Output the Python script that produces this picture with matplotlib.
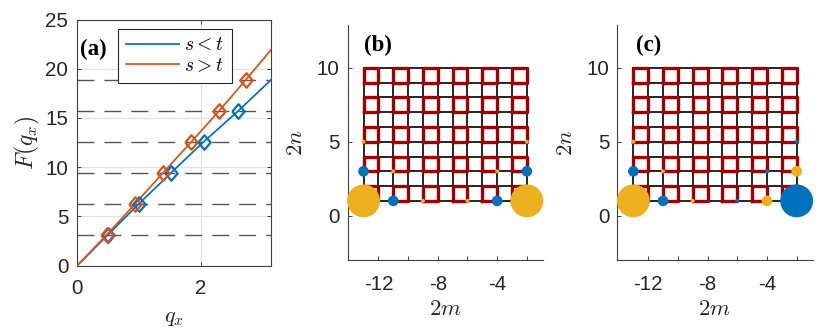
import numpy as np
from matplotlib import pyplot as plt

plt.rcParams['font.family'] = ['Liberation Sans', 'DejaVu Sans']
plt.rcParams['mathtext.fontset'] = 'cm'
plt.rcParams['axes.unicode_minus'] = False

# panel (a) data
levels = [3.14, 6.28, 9.42, 12.57, 15.71, 18.85]
q_less = [0, 0.50, 1.00, 1.52, 2.05, 2.61, 3.14]
F_less = [0, 3.14, 6.28, 9.42, 12.57, 15.71, 18.85]
q_more = [0, 0.48, 0.94, 1.39, 1.85, 2.30, 2.73, 3.14]
F_more = [0, 3.14, 6.28, 9.42, 12.57, 15.71, 18.85, 21.9]
marker_q_less = [0.50, 1.00, 1.52, 2.05, 2.61]
marker_F_less = [3.14, 6.28, 9.42, 12.57, 15.71]
marker_q_more = [0.48, 0.94, 1.39, 1.85, 2.30, 2.73]
marker_F_more = [3.14, 6.28, 9.42, 12.57, 15.71, 18.85]

# lattice for (b) and (c)
site_x = [-13, -12, -11, -10, -9, -8, -7, -6, -5, -4, -3, -2]
site_y = [1, 2, 3, 4, 5, 6, 7, 8, 9, 10]
plaq_left = [-13, -11, -9, -7, -5, -3]
plaq_bottom = [1, 3, 5, 7, 9]

# edge mode weights, positive = yellow, negative = blue
mode_x = [-13, -2, -13, -11, -4, -2, -13, -2, -11, -4, -9, -6]
mode_y = [1, 1, 3, 1, 1, 3, 5, 5, 3, 3, 1, 1]
weight_b = [1, 1, -0.105, -0.105, -0.105, -0.105, 0.015, 0.015, 0.015, 0.015, 0.015, 0.015]
weight_c = [1, -1, -0.105, -0.105, 0.105, 0.105, 0.015, -0.015, 0.015, -0.015, 0.015, -0.015]

BLUE = '#0072BD'
ORANGE = '#D95319'
YELLOW = '#EDB120'
RED = '#A00000'
AXC = '#404040'
TXT = '#262626'
W, H = 830.0, 330.0


def px_axes(fig, left, top, right, bottom):
    return fig.add_axes([left / W, 1 - bottom / H, (right - left) / W, (bottom - top) / H])


fig = plt.figure(figsize=(8.3, 3.3), dpi=100)

# ********** panel (a)
ax = px_axes(fig, 77.3, 19.5, 271, 265.5)
ax.grid(True, color='#e2e2e2', lw=0.9)
ax.set_axisbelow(True)
for lev in levels:
    ax.plot([0, np.pi], [lev, lev], color='#555555', lw=1.0, dashes=(12.2, 7.2), zorder=2)
diamond = [(-0.85, 0), (0, 1), (0.85, 0), (0, -1), (-0.85, 0)]
ax.plot(q_less, F_less, color=BLUE, lw=1.25, label='$s<t$', zorder=3)
ax.plot(q_more, F_more, color=ORANGE, lw=1.25, label='$s>t$', zorder=3)
ax.plot(marker_q_less, marker_F_less, ls='none', marker=diamond, ms=10.5, mfc='none', mec=BLUE, mew=1.6, zorder=4)
ax.plot(marker_q_more, marker_F_more, ls='none', marker=diamond, ms=10.5, mfc='none', mec=ORANGE, mew=1.6, zorder=4)
ax.set_xlim(0, np.pi)
ax.set_ylim(0, 25)
ax.set_xticks([0, 2])
ax.set_yticks([0, 5, 10, 15, 20, 25])
ax.tick_params(direction='in', top=True, right=True, length=3, width=0.7, color=AXC,
               labelsize=14.8, labelcolor=TXT)
ax.tick_params(axis='x', pad=10)
ax.tick_params(axis='y', pad=6.5)
for sp in ax.spines.values():
    sp.set_color(AXC)
    sp.set_linewidth(0.8)
ax.set_xlabel('$q_x$', fontsize=16, color=TXT)
ax.set_ylabel('$F(q_x)$', fontsize=17, color=TXT)
ax.xaxis.set_label_coords(0.5, -0.168)
ax.yaxis.set_label_coords(-0.183, 0.5)
leg = ax.legend(loc='upper left', bbox_to_anchor=(41 / 193.7, 1 - 9.5 / 246), fontsize=14, fancybox=False,
                framealpha=1, edgecolor=TXT, handlelength=2.7, borderaxespad=0, labelspacing=0.15,
                borderpad=0.4, handletextpad=0.3)
leg.get_frame().set_linewidth(0.8)
leg.set_zorder(6)
ax.text(0.084, 0.88, '(a)', transform=ax.transAxes, fontsize=16.5, family='Liberation Serif', weight='bold',
        ha='center', va='center', zorder=7)


# ********** panels (b), (c)
def lattice(left, weight, tag):
    a = px_axes(fig, left, 25, left + 195.7, 260)
    for x in site_x:
        a.plot([x, x], [site_y[0], site_y[-1]], color='black', lw=1.2, zorder=2)
    for y in site_y:
        a.plot([site_x[0], site_x[-1]], [y, y], color='black', lw=1.2, zorder=2)
    for x0 in plaq_left:
        for y0 in plaq_bottom:
            a.plot([x0, x0 + 1, x0 + 1, x0, x0], [y0, y0, y0 + 1, y0 + 1, y0], color=RED, lw=2.4,
                   solid_joinstyle='round', zorder=3)
    colors = [YELLOW if w > 0 else BLUE for w in weight]
    a.scatter(mode_x, mode_y, s=np.abs(weight) * 560, c=colors, linewidths=0, zorder=5, clip_on=False)
    a.set_xlim(-14.08, -0.9)
    a.set_ylim(-3, 12.9)
    a.set_xticks([-12, -10, -8, -6, -4, -2], ['-12', '', '-8', '', '-4', ''])
    a.set_yticks([0, 5, 10])
    a.tick_params(direction='in', length=3, width=0.7, color=AXC, labelsize=14.8, labelcolor=TXT)
    a.tick_params(axis='x', pad=11)
    a.tick_params(axis='y', pad=5.6)
    a.spines['top'].set_visible(False)
    a.spines['right'].set_visible(False)
    a.spines['left'].set_color(AXC)
    a.spines['bottom'].set_color(AXC)
    a.set_xlabel('$2m$', fontsize=16.5, color=TXT)
    a.set_ylabel('$2n$', fontsize=16.5, color=TXT)
    a.xaxis.set_label_coords(0.498, -0.157)
    a.yaxis.set_label_coords(-0.207, 0.5)
    a.text(-12.0, 11.53, tag, fontsize=16.5, family='Liberation Serif', weight='bold', ha='center', va='center')


lattice(347.5, np.array(weight_b), '(b)')
lattice(617.3, np.array(weight_c), '(c)')

plt.savefig('out.png', dpi=100)
